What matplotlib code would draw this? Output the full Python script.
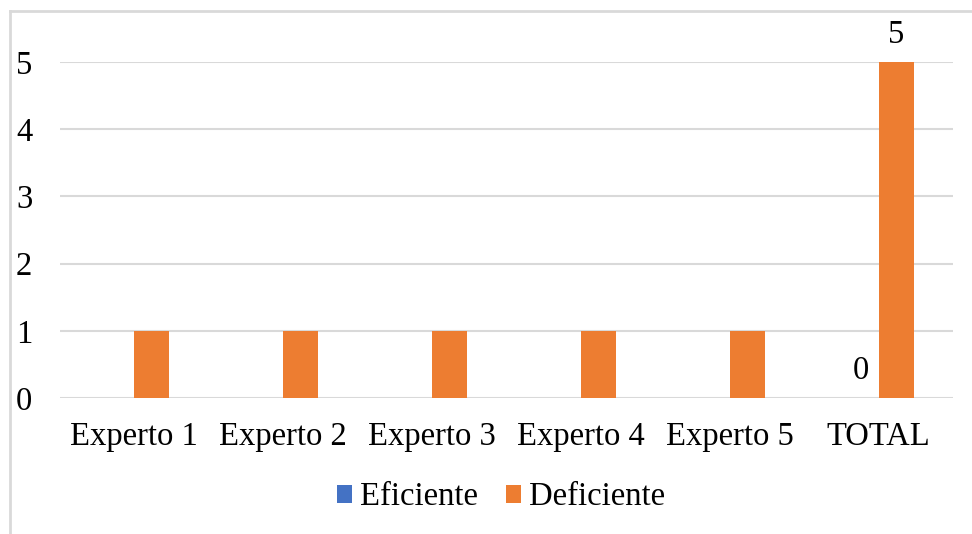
import matplotlib.pyplot as plt
from matplotlib.lines import Line2D
import numpy as np

categorias = ["Experto 1", "Experto 2", "Experto 3", "Experto 4", "Experto 5", "TOTAL"]
eficiente = [0, 0, 0, 0, 0, 0]
deficiente = [1, 1, 1, 1, 1, 5]

plt.rcParams["font.family"] = ["Liberation Serif", "DejaVu Serif"]

W, H = 972, 534
fig = plt.figure(figsize=(W / 100, H / 100), dpi=100)
ax = fig.add_axes([60 / W, (H - 398) / H, (953 - 60) / W, (398 - 62) / H])

x = np.arange(len(categorias))
ancho = 0.235
b1 = ax.bar(x - ancho / 2, eficiente, ancho, color="#4472C4", label="Eficiente", zorder=3)
b2 = ax.bar(x + ancho / 2, deficiente, ancho, color="#ED7D31", label="Deficiente", zorder=3)

# solo el TOTAL lleva etiquetas de valor
ax.text(x[-1] - ancho / 2, eficiente[-1] + 0.4, str(eficiente[-1]), ha="center", va="center", fontsize=23.5)
ax.text(x[-1] + ancho / 2, deficiente[-1] + 0.4, str(deficiente[-1]), ha="center", va="center", fontsize=23.5)

ax.set_xlim(-0.5, len(categorias) - 0.5)
ax.set_ylim(0, 5)
ax.set_yticks(range(0, 6))
ax.set_xticks(x)
ax.set_xticklabels(categorias)
ax.tick_params(axis="both", length=0, labelsize=23.5)
ax.tick_params(axis="y", pad=20)
ax.tick_params(axis="x", pad=17)
ax.grid(axis="y", color="#D9D9D9", linewidth=1.5, zorder=0)
for s in ax.spines.values():
    s.set_visible(False)

fig.legend(handles=[b1, b2], loc="center", bbox_to_anchor=(501 / W, (H - 497) / H), ncol=2,
           frameon=False, fontsize=23.5, handlelength=0.47, handleheight=0.47,
           handletextpad=0.25, columnspacing=0.85)

# borde del área del gráfico (recortado a la derecha y abajo)
fig.add_artist(Line2D([10 / W, 10 / W], [0, (H - 11) / H], color="#D9D9D9", linewidth=2))
fig.add_artist(Line2D([10 / W, 1], [(H - 11) / H, (H - 11) / H], color="#D9D9D9", linewidth=2))

fig.savefig("out.png", dpi=100)
